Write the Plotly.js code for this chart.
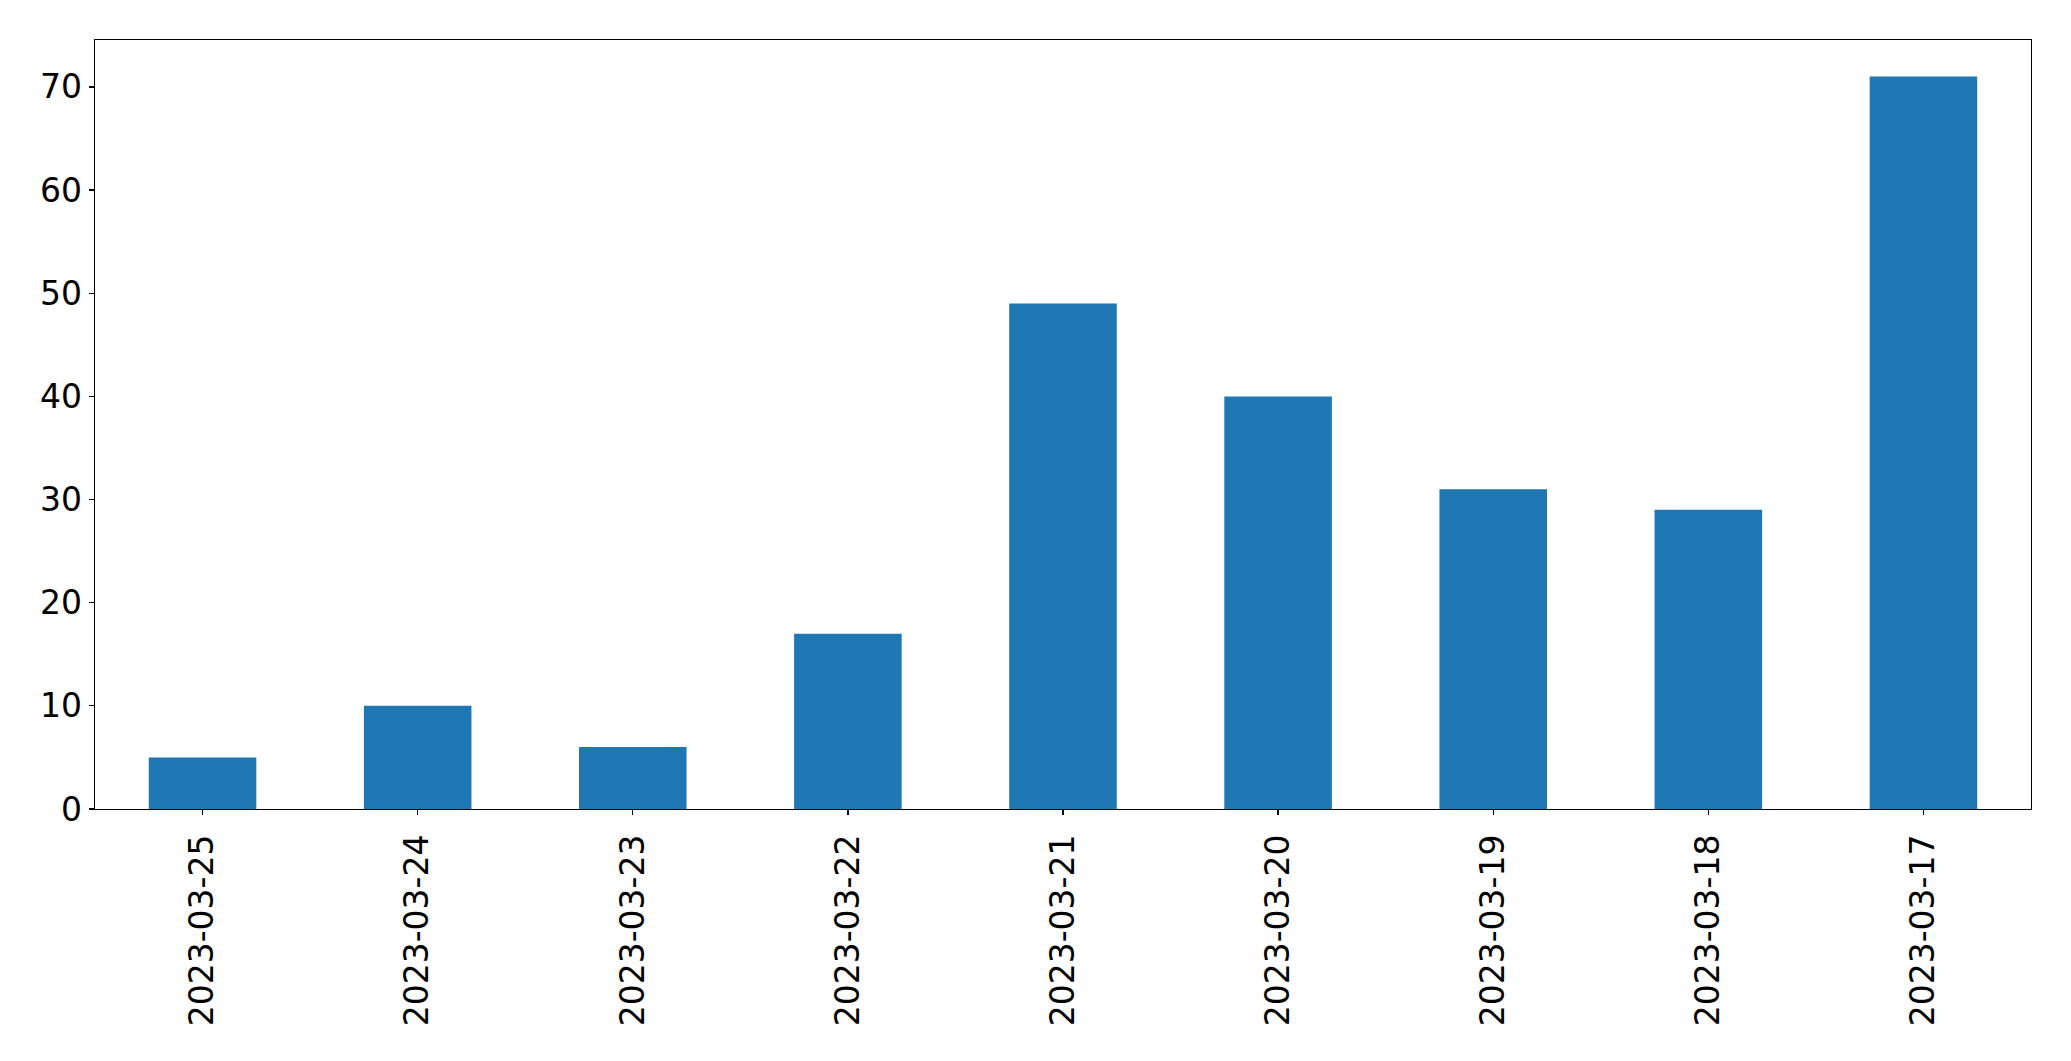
<!DOCTYPE html>
<html>
<head>
<meta charset="utf-8">
<script src="https://cdn.plot.ly/plotly-3.0.1.min.js"></script>
<style>html,body{margin:0;padding:0;background:#fff;}#chart{width:2071px;height:1061px;}</style>
</head>
<body>
<div id="chart"></div>
<script>
const dates = ["2023-03-25","2023-03-24","2023-03-23","2023-03-22","2023-03-21","2023-03-20","2023-03-19","2023-03-18","2023-03-17"];
const counts = [5, 10, 6, 17, 49, 40, 31, 29, 71];
const yTicks = [0, 10, 20, 30, 40, 50, 60, 70];

const trace = {
  type: 'bar',
  x: dates,
  y: counts,
  width: 0.5,
  marker: {color: '#1f77b4', line: {width: 0}},
  hoverinfo: 'x+y'
};

const layout = {
  width: 2071,
  height: 1061,
  margin: {l: 94.5, r: 39.5, t: 39.5, b: 252},
  paper_bgcolor: '#ffffff',
  plot_bgcolor: '#ffffff',
  showlegend: false,
  font: {family: 'DejaVu Sans', color: '#000000', size: 33},
  xaxis: {
    type: 'category',
    range: [-0.5, 8.5],
    tickangle: -90,
    ticks: 'outside',
    ticklen: 5,
    tickwidth: 1.3,
    tickcolor: '#000',
    showline: true,
    linecolor: '#000',
    linewidth: 1.3,
    mirror: true,
    showgrid: false,
    zeroline: false,
    tickfont: {family: 'DejaVu Sans', size: 33, color: '#000'},
    ticklabelstandoff: 6
  },
  yaxis: {
    range: [0, 74.55],
    tickvals: yTicks,
    ticktext: yTicks.map(String),
    ticks: 'outside',
    ticklen: 5,
    tickwidth: 1.3,
    tickcolor: '#000',
    showline: true,
    linecolor: '#000',
    linewidth: 1.3,
    mirror: true,
    showgrid: false,
    zeroline: false,
    tickfont: {family: 'DejaVu Sans', size: 33, color: '#000'}
  }
};

Plotly.newPlot('chart', [trace], layout, {displayModeBar: false, staticPlot: true});
</script>
</body>
</html>
